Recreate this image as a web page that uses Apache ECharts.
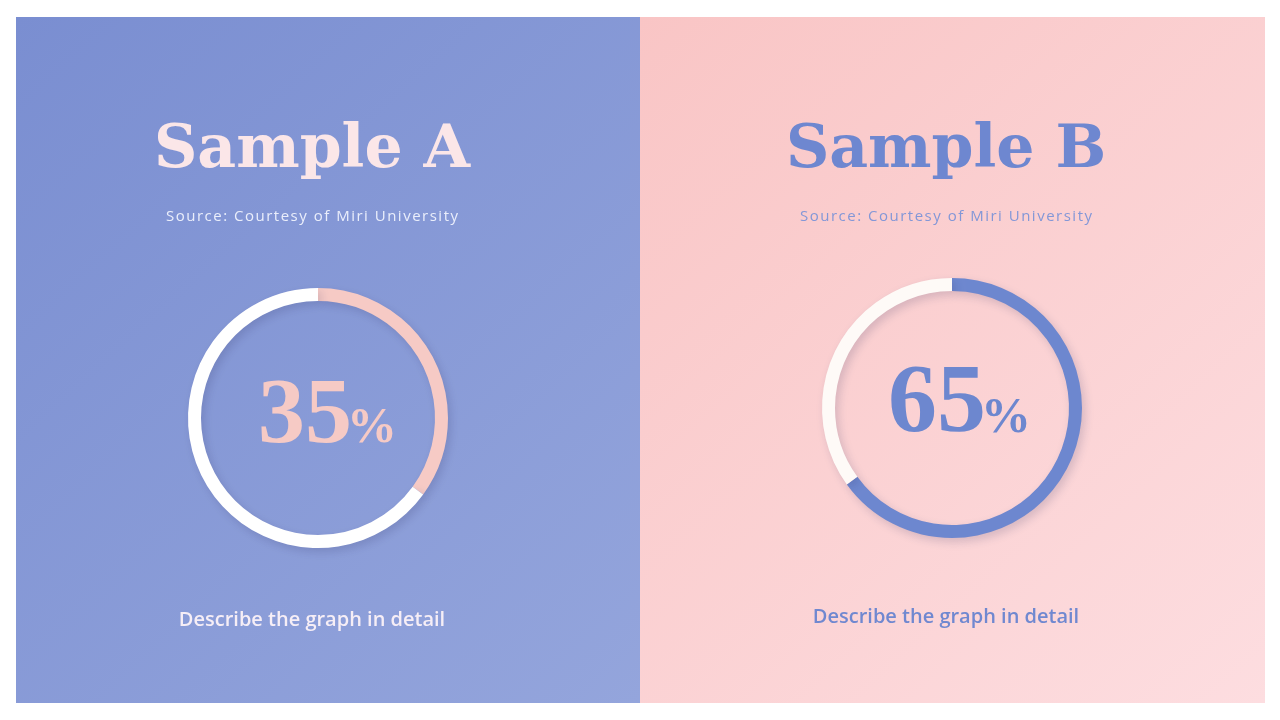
<!DOCTYPE html>
<html>
<head>
<meta charset="utf-8">
<script src="https://cdn.jsdelivr.net/npm/echarts@6/dist/echarts.min.js"></script>
<style>
html,body{margin:0;padding:0;background:#ffffff;}
#main{width:1280px;height:720px;}
</style>
</head>
<body>
<div id="main"></div>
<script>
// ---- data ----
var samples = ['Sample A', 'Sample B'];
var values = [35, 65];
var subtitle = 'Source: Courtesy of Miri University';
var caption = 'Describe the graph in detail';

// ---- styling (kept separate from data) ----
var panelX = [16, 640];
var panelW = [624, 625];
var panelTop = 17, panelH = 686;
var panelColors = [['#7a8ed1', '#94a5dc'], ['#f9c5c5', '#fddde0']];
var centers = [[318, 418], [952, 408]];
var arcColor = ['#f6cac5', '#6d87cf'];
var restColor = ['#ffffff', '#fefaf7'];
var titleColor = ['#fbe6e8', '#6e87d0'];
var subColor = ['#eaeefb', '#8397d7'];
var capColor = ['#f6eef6', '#7088d0'];
var titleY = [151, 151];
var capY = [620, 617];

var chart = echarts.init(document.getElementById('main'), null, {renderer: 'canvas'});

var graphics = [];
samples.forEach(function (name, i) {
  var cx = centers[i][0];
  graphics.push({
    type: 'rect', z: -10, silent: true,
    shape: {x: panelX[i], y: panelTop, width: panelW[i], height: panelH},
    style: {fill: new echarts.graphic.LinearGradient(0, 0, 1, 1, [
      {offset: 0, color: panelColors[i][0]},
      {offset: 1, color: panelColors[i][1]}
    ])}
  });
  graphics.push({
    type: 'text', silent: true, z: 10,
    x: cx - 6, y: titleY[i],
    style: {text: name, fill: titleColor[i], font: 'bold 60px "DejaVu Serif"',
      align: 'center', verticalAlign: 'middle'}
  });
  graphics.push({
    type: 'text', silent: true, z: 10,
    x: cx - 6, y: 217,
    style: {text: subtitle.split('').join('\u200A'), fill: subColor[i], font: '15px "Open Sans"',
      align: 'center', verticalAlign: 'middle'}
  });
  graphics.push({
    type: 'text', silent: true, z: 10,
    x: cx - 6, y: capY[i],
    style: {text: caption, fill: capColor[i], font: '600 20px "Open Sans"',
      align: 'center', verticalAlign: 'middle'}
  });
  // percentage number
  graphics.push({
    type: 'text', silent: true, z: 10,
    x: centers[i][0] + (i === 0 ? 34 : 34), y: centers[i][1] + 47,
    style: {text: String(values[i]), fill: arcColor[i],
      font: (i === 0 ? '600 94px' : 'bold 98px') + ' "Liberation Serif"',
      align: 'right', verticalAlign: 'bottom'}
  });
  graphics.push({
    type: 'text', silent: true, z: 10,
    x: centers[i][0] + 29, y: centers[i][1] + 36,
    style: {text: '%', fill: arcColor[i], font: 'bold 50px "Liberation Serif"',
      align: 'left', verticalAlign: 'bottom'}
  });
});

var series = samples.map(function (name, i) {
  return {
    type: 'pie',
    name: name,
    center: centers[i],
    radius: [117, 130],
    startAngle: 90,
    clockwise: true,
    silent: true,
    animation: false,
    label: {show: false},
    labelLine: {show: false},
    emphasis: {disabled: true},
    itemStyle: {shadowBlur: 10, shadowOffsetX: 3, shadowOffsetY: 4, shadowColor: 'rgba(40,40,90,0.18)'},
    data: [
      {value: values[i], name: 'value', itemStyle: {color: arcColor[i]}},
      {value: 100 - values[i], name: 'rest', itemStyle: {color: restColor[i]}}
    ]
  };
});

chart.setOption({
  animation: false,
  backgroundColor: '#ffffff',
  graphic: graphics,
  series: series
});
</script>
</body>
</html>
